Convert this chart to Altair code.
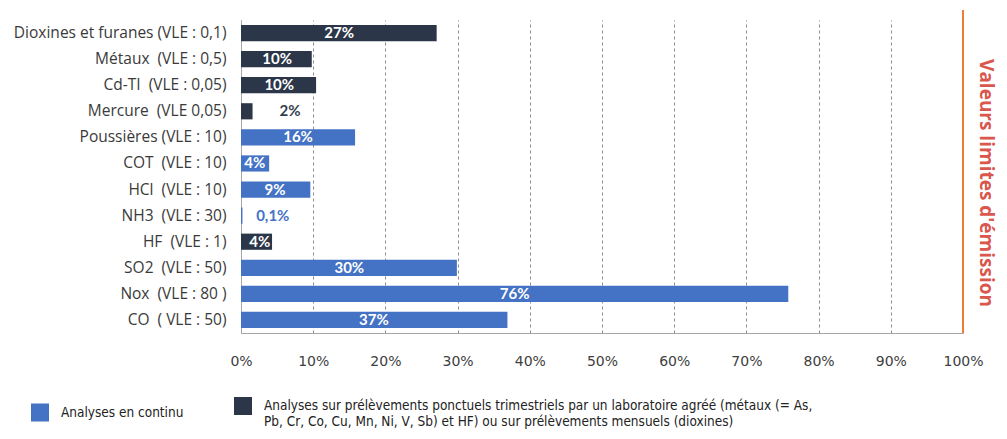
import altair as alt
import pandas as pd

categories = [
    "Dioxines et furanes (VLE : 0,1)",
    "Métaux\u00a0 (VLE : 0,5)",
    "Cd-TI\u00a0 (VLE : 0,05)",
    "Mercure\u00a0 (VLE 0,05)",
    "Poussières (VLE : 10)",
    "COT\u00a0 (VLE : 10)",
    "HCl\u00a0 (VLE : 10)",
    "NH3\u00a0 (VLE : 30)",
    "HF\u00a0 (VLE : 1)",
    "SO2\u00a0 (VLE : 50)",
    "Nox\u00a0 (VLE : 80 )",
    "CO\u00a0 ( VLE : 50)",
]
values = [27.1, 9.8, 10.4, 1.6, 15.8, 3.9, 9.6, 0.2, 4.3, 29.9, 75.8, 36.9]
labels = ["27%", "10%", "10%", "2%", "16%", "4%", "9%", "0,1%", "4%", "30%", "76%", "37%"]
label_pos = [13.6, 5.0, 5.3, 6.8, 7.9, 1.9, 4.7, 4.4, 2.6, 15.0, 37.9, 18.4]

T_CONT = "Analyses en continu"
T_PONCT = ("Analyses sur prélèvements ponctuels trimestriels par un laboratoire agréé (métaux (= As,|"
           "Pb, Cr, Co, Cu, Mn, Ni, V, Sb) et HF) ou sur prélèvements mensuels (dioxines)")
types = [T_PONCT, T_PONCT, T_PONCT, T_PONCT, T_CONT, T_CONT, T_CONT, T_CONT, T_PONCT, T_CONT, T_CONT, T_CONT]
label_colors = ["#ffffff", "#ffffff", "#ffffff", "#333f50", "#ffffff", "#ffffff",
                "#ffffff", "#4472c4", "#ffffff", "#ffffff", "#ffffff", "#ffffff"]

BLUE = "#4472c4"
DARK = "#2b3648"
ORANGE = "#ed7d31"

df = pd.DataFrame({
    "cat": categories,
    "value": values,
    "label": labels,
    "label_x": label_pos,
    "type": types,
    "tcolor": label_colors,
})

y_enc = alt.Y(
    "cat:N",
    sort=categories,
    scale=alt.Scale(paddingInner=0.38, paddingOuter=0.19),
    axis=alt.Axis(
        title=None, ticks=False, labelPadding=15, labelFont="Open Sans", labelFontSize=15.5,
        labelColor="#3a3a3a", domainColor="#a6a6a6", labelLimit=400,
    ),
)

x_scale = alt.Scale(domain=[0, 100], nice=False)

bars = alt.Chart(df).mark_bar().encode(
    x=alt.X(
        "value:Q",
        scale=x_scale,
        axis=alt.Axis(
            title=None, values=list(range(0, 101, 10)), labelExpr="datum.value + '%'",
            ticks=False, grid=True, gridDash=[3, 3], gridColor="#8c8c8c",
            domainColor="#a6a6a6", labelFont="DejaVu Sans", labelFontSize=14,
            labelColor="#404040", labelPadding=21, labelFlush=False,
        ),
    ),
    y=y_enc,
    color=alt.Color(
        "type:N",
        scale=alt.Scale(domain=[T_CONT, T_PONCT], range=[BLUE, DARK]),
        legend=alt.Legend(
            title=None, orient="none", legendX=-210, legendY=377, columns=2,
            columnPadding=50, symbolType="square", symbolSize=324, symbolStrokeWidth=0,
            symbolOpacity=1, labelOffset=12, labelLimit=1000,
            labelFont="Liberation Sans Narrow, DejaVu Sans Condensed, sans-serif",
            labelFontSize=13.5, labelColor="#222222",
            labelExpr="split(datum.label, '|')",
        ),
    ),
)

text = alt.Chart(df).mark_text(font="Lato", fontWeight="bold", fontSize=15).encode(
    x=alt.X("label_x:Q", scale=x_scale),
    y=y_enc,
    text="label:N",
    color=alt.Color("tcolor:N", scale=None),
)

rule = alt.Chart(pd.DataFrame({"x": [100]})).mark_rule(color=ORANGE, strokeWidth=2).encode(
    x=alt.X("x:Q", scale=x_scale),
    y=alt.value(-10),
    y2=alt.value(313),
)

vtext = alt.Chart(pd.DataFrame({"t": ["Valeurs limites d'émission"]})).mark_text(
    angle=90, font="Open Sans", fontWeight="bold", fontSize=19, color="#d9574c",
    align="center", baseline="middle",
).encode(text="t:N", x=alt.value(745), y=alt.value(163))

chart = alt.layer(bars, text, rule, vtext).properties(
    width=722,
    height=313,
    autosize=alt.AutoSizeParams(type="none"),
    padding={"left": 233, "top": 12, "right": 36, "bottom": 98},
).configure_view(stroke=None)

chart.save("out.html", embed_options={"renderer": "svg", "actions": False})
